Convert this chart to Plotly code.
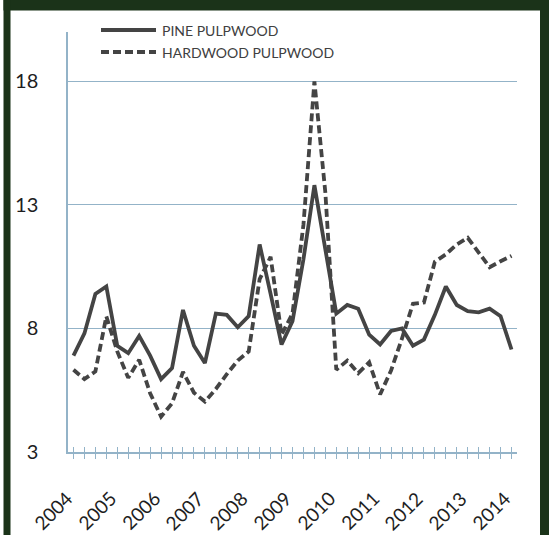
import plotly.graph_objects as go

# Quarterly price index values, 2004 Q1 .. 2014 Q1
years = [2004, 2005, 2006, 2007, 2008, 2009, 2010, 2011, 2012, 2013, 2014]
pine = [6.9, 7.8, 9.4, 9.7, 7.3, 7.0, 7.7, 6.9, 5.95, 6.4,
        8.75, 7.3, 6.6, 8.6, 8.55, 8.05, 8.5, 11.4, 9.4, 7.35,
        8.3, 10.8, 13.8, 11.2, 8.6, 8.95, 8.8, 7.75, 7.35, 7.9,
        8.0, 7.3, 7.55, 8.55, 9.7, 8.95, 8.7, 8.65, 8.8, 8.5, 7.15]
hardwood = [6.33, 5.95, 6.26, 8.49, 7.07, 6.0, 6.73, 5.38, 4.43, 4.97,
            6.24, 5.4, 5.04, 5.55, 6.15, 6.7, 7.07, 10.0, 10.9, 7.75,
            8.6, 12.2, 18.0, 13.5, 6.33, 6.7, 6.19, 6.63, 5.33, 6.3,
            7.6, 9.0, 9.05, 10.7, 11.0, 11.4, 11.67, 11.06, 10.48, 10.72, 10.94]
series_names = ["PINE PULPWOOD", "HARDWOOD PULPWOOD"]
y_ticks = [3, 8, 13, 18]

n = len(pine)
xs = list(range(n))

W, H = 549, 535
L, R, T, B = 68, 32, 32, 83
pw, ph = W - L - R, H - T - B


def px(x):
    return (x - L) / pw


def py(y):
    return (H - B - y) / ph


line_col = "#444444"
grid_col = "#93b3c8"
frame_col = "#1b3319"
font_fam = "Lato, 'Open Sans', Arial, sans-serif"

fig = go.Figure()
fig.add_trace(go.Scatter(x=xs, y=pine, mode="lines", name=series_names[0],
                         line=dict(color=line_col, width=3.8), showlegend=False))
fig.add_trace(go.Scatter(x=xs, y=hardwood, mode="lines", name=series_names[1],
                         line=dict(color=line_col, width=3.8, dash="8px,4px"),
                         showlegend=False))
fig.add_trace(go.Scatter(x=[], y=[], xaxis="x2", showlegend=False))

fig.update_layout(
    width=W, height=H,
    margin=dict(l=L, r=R, t=T, b=B, autoexpand=False),
    paper_bgcolor="white", plot_bgcolor="white",
    font=dict(family=font_fam, color="#1e1e1e"),
    xaxis=dict(range=[-0.5, n - 0.5], tickmode="array", tickvals=xs, showticklabels=False,
               ticks="outside", ticklen=5, tickwidth=1.2, tickcolor=grid_col, automargin=False,
               showline=True, linecolor=grid_col, linewidth=1.5, showgrid=False, zeroline=False),
    xaxis2=dict(range=[-0.5, n - 0.5], overlaying="x", anchor="y", side="bottom",
                tickmode="array", tickvals=xs, ticks="inside", ticklen=5, tickwidth=1.2,
                tickcolor=grid_col, showticklabels=False, showline=False, showgrid=False,
                zeroline=False, automargin=False),
    yaxis=dict(range=[3, 20], tickmode="array", tickvals=y_ticks, showgrid=True,
               gridcolor=grid_col, gridwidth=1.2, showline=True, linecolor=grid_col,
               linewidth=1.5, zeroline=False, ticks="", ticklabelstandoff=24, automargin=False,
               tickfont=dict(size=20, color="#1e1e1e")),
)

# year labels every 4 quarters, rotated
for i in range(0, n, 4):
    fig.add_annotation(xref="x", yref="paper", x=i, y=0, text=str(years[i // 4]),
                       textangle=-45, xanchor="right", yanchor="top", showarrow=False,
                       xshift=6, yshift=-32, font=dict(size=19, color="#1e1e1e"))

shapes = []
# dark green frame
shapes.append(dict(type="rect", xref="paper", yref="paper", x0=px(3.5), x1=px(W + 2), y0=py(-2), y1=py(10.5),
                   fillcolor=frame_col, line=dict(width=0)))
shapes.append(dict(type="rect", xref="paper", yref="paper", x0=px(3.5), x1=px(10.5), y0=py(-2), y1=py(H + 2),
                   fillcolor=frame_col, line=dict(width=0)))
shapes.append(dict(type="rect", xref="paper", yref="paper", x0=px(540), x1=px(W + 2), y0=py(-2), y1=py(H + 2),
                   fillcolor=frame_col, line=dict(width=0)))
# legend samples
shapes.append(dict(type="line", xref="paper", yref="paper", x0=px(101), x1=px(156), y0=py(30), y1=py(30),
                   line=dict(color=line_col, width=3.8)))
shapes.append(dict(type="line", xref="paper", yref="paper", x0=px(101), x1=px(156), y0=py(52), y1=py(52),
                   line=dict(color=line_col, width=3.8, dash="8px,4px")))
fig.update_layout(shapes=shapes)

for name, yy in zip(series_names, [30, 52]):
    fig.add_annotation(xref="paper", yref="paper", x=px(160), y=py(yy), text=name, showarrow=False,
                       xanchor="left", yanchor="middle", font=dict(size=14, color="#404040"))

fig.write_html("out.html", config={"displayModeBar": False},
               post_script="document.body.style.margin='0';document.body.style.overflow='hidden';")
